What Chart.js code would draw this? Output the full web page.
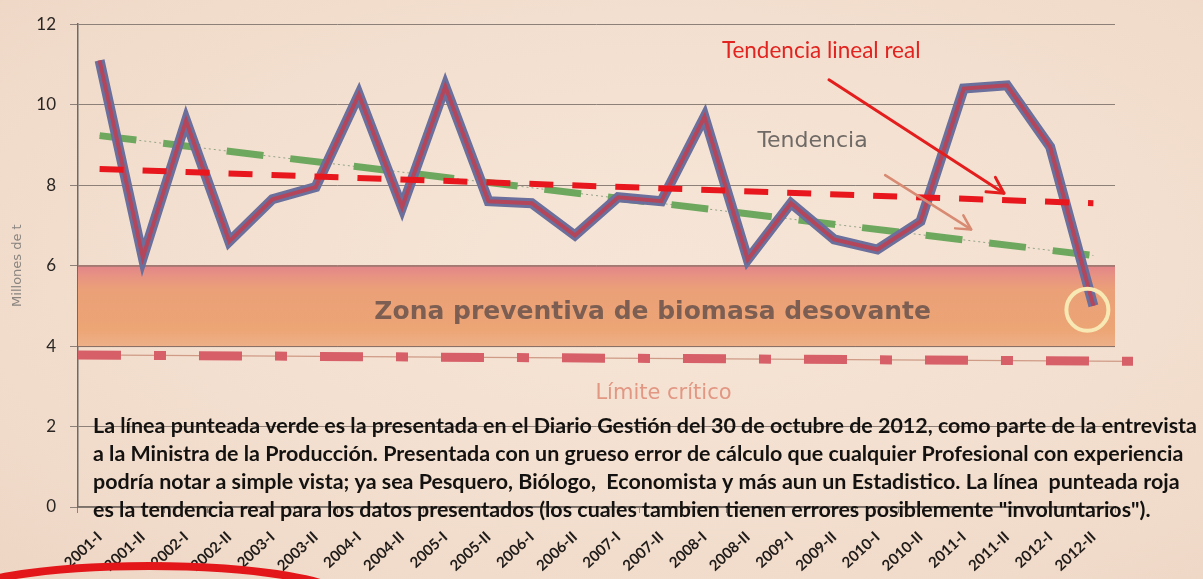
<!DOCTYPE html>
<html lang="es">
<head>
<meta charset="utf-8">
<title>Biomasa desovante de anchoveta</title>
<script src="https://cdn.jsdelivr.net/npm/chart.js@4.4.0/dist/chart.umd.min.js"></script>
<style>
  html, body { margin: 0; padding: 0; background: #f1dccb; }
  #wrap {
    position: relative; width: 1203px; height: 579px;
    background: radial-gradient(ellipse at 55% 45%, #f6e5d7 0%, #f3dfcf 55%, #eed6c4 100%);
  }
  canvas { display: block; }
</style>
</head>
<body>
<div id="wrap"><canvas id="chart" width="1203" height="579"></canvas></div>
<script>
// ─── Data ────────────────────────────────────────────────────────────────────
const CATEGORIES = [
  "2001-I", "2001-II", "2002-I", "2002-II", "2003-I", "2003-II",
  "2004-I", "2004-II", "2005-I", "2005-II", "2006-I", "2006-II",
  "2007-I", "2007-II", "2008-I", "2008-II", "2009-I", "2009-II",
  "2010-I", "2010-II", "2011-I", "2011-II", "2012-I", "2012-II",
];
const BIOMASS = [
  11.1, 6.2, 9.6, 6.6, 7.65, 7.95,
  10.25, 7.45, 10.45, 7.6, 7.55, 6.75,
  7.7, 7.6, 9.7, 6.15, 7.55, 6.65,
  6.4, 7.1, 10.4, 10.48, 8.95, 5.0,
];
// trend lines: value at first and last period
const TREND_GESTION = [9.23, 6.25];   // green, as published
const TREND_REAL = [8.4, 7.55];       // red, actual linear fit
const ZONE = [4, 6];                  // zona preventiva
const CRITICAL = [3.78, 3.62];        // límite crítico (left, right)
const Y_TICKS = [0, 2, 4, 6, 8, 10, 12];

const NOTE_LINES = [
  "La línea punteada verde es la presentada en el Diario Gestión del 30 de octubre de 2012, como parte de la entrevista",
  "a la Ministra de la Producción. Presentada con un grueso error de cálculo que cualquier Profesional con experiencia",
  "podría notar a simple vista; ya sea Pesquero, Biólogo,  Economista y más aun un Estadistico. La línea  punteada roja",
  "es la tendencia real para los datos presentados (los cuales tambien tienen errores posiblemente \"involuntarios\").",
];

// Only the two ends of a trend line are known; the library joins them.
const endsOnly = (pair) =>
  CATEGORIES.map((_, i) => (i === 0 ? pair[0] : i === CATEGORIES.length - 1 ? pair[1] : null));

// ─── Annotation layout (category index, value) ───────────────────────────────
const ANNOT = {
  realLabel: { at: [16.7, 11.35], text: "Tendencia lineal real" },
  trendLabel: { at: [16.5, 9.1], text: "Tendencia" },
  realArrow: { from: [16.88, 10.62], to: [20.93, 7.8] },
  trendArrow: { from: [18.18, 8.25], to: [20.17, 6.9] },
  zoneLabel: { at: [12.8, 4.84], text: "Zona preventiva de biomasa desovante" },
  criticalLabel: { at: [13.05, 2.82], text: "Límite crítico" },
};

function arrow(ctx, x1, y1, x2, y2, color, width, head) {
  ctx.save();
  ctx.strokeStyle = color;
  ctx.lineWidth = width;
  ctx.lineCap = "round";
  ctx.lineJoin = "round";
  ctx.beginPath();
  ctx.moveTo(x1, y1);
  ctx.lineTo(x2, y2);
  ctx.stroke();
  const ang = Math.atan2(y2 - y1, x2 - x1);
  ctx.beginPath();
  ctx.moveTo(x2 - head * Math.cos(ang - 0.5), y2 - head * Math.sin(ang - 0.5));
  ctx.lineTo(x2, y2);
  ctx.lineTo(x2 - head * Math.cos(ang + 0.5), y2 - head * Math.sin(ang + 0.5));
  ctx.stroke();
  ctx.restore();
}

const annotations = {
  id: "annotations",
  beforeDatasetsDraw(chart) {
    const { ctx, chartArea: a, scales: { x, y } } = chart;
    const px = ([i, v]) => [x.getPixelForValue(i), y.getPixelForValue(v)];

    // orange "zona preventiva" band
    const yTop = y.getPixelForValue(ZONE[1]);
    const yBot = y.getPixelForValue(ZONE[0]);
    ctx.save();
    const g = ctx.createLinearGradient(0, yTop, 0, yBot);
    g.addColorStop(0, "#e3848a");
    g.addColorStop(0.12, "#e79283");
    g.addColorStop(0.3, "#eba077");
    g.addColorStop(0.8, "#eca575");
    g.addColorStop(1, "#eeb088");
    ctx.fillStyle = g;
    ctx.fillRect(a.left, yTop, a.right - a.left, yBot - yTop);
    ctx.strokeStyle = "#8a6f64";
    ctx.lineWidth = 1;
    ctx.beginPath();
    ctx.moveTo(a.left, yTop + 0.5); ctx.lineTo(a.right, yTop + 0.5);
    ctx.moveTo(a.left, yBot + 0.5); ctx.lineTo(a.right, yBot + 0.5);
    ctx.stroke();

    const [zx, zy] = px(ANNOT.zoneLabel.at);
    ctx.font = 'bold 25px "DejaVu Sans"';
    ctx.textAlign = "center";
    ctx.textBaseline = "middle";
    ctx.fillStyle = "#7c5f52";
    ctx.fillText(ANNOT.zoneLabel.text, zx, zy, 570);

    // límite crítico: thin line plus long/short dashes
    const cy1 = y.getPixelForValue(CRITICAL[0]);
    const cy2 = y.getPixelForValue(CRITICAL[1]);
    const cx2 = a.right + 18;
    ctx.strokeStyle = "#cf9a86";
    ctx.lineWidth = 1.2;
    ctx.beginPath(); ctx.moveTo(a.left, cy1); ctx.lineTo(cx2, cy2); ctx.stroke();
    ctx.strokeStyle = "#d65f68";
    ctx.lineWidth = 9;
    ctx.setLineDash([43, 33, 12, 33]);
    ctx.beginPath(); ctx.moveTo(a.left, cy1); ctx.lineTo(cx2, cy2); ctx.stroke();
    ctx.setLineDash([]);

    const [lx, ly] = px(ANNOT.criticalLabel.at);
    ctx.font = '21px "DejaVu Sans"';
    ctx.fillStyle = "#e29783";
    ctx.fillText(ANNOT.criticalLabel.text, lx, ly, 138);
    ctx.restore();
  },
  afterDatasetsDraw(chart) {
    const { ctx, chartArea: a, scales: { x, y } } = chart;
    const px = ([i, v]) => [x.getPixelForValue(i), y.getPixelForValue(v)];
    ctx.save();

    // circle around the last observation
    const last = CATEGORIES.length - 1;
    ctx.strokeStyle = "#f8e8b4";
    ctx.lineWidth = 4;
    ctx.beginPath();
    ctx.arc(x.getPixelForValue(last) - 6, y.getPixelForValue(BIOMASS[last]) + 4, 21, 0, Math.PI * 2);
    ctx.stroke();

    // labels + arrows
    ctx.textAlign = "center";
    ctx.textBaseline = "middle";
    let [tx, ty] = px(ANNOT.realLabel.at);
    ctx.font = '22.5px "Lato"';
    ctx.fillStyle = "#e2231f";
    ctx.fillText(ANNOT.realLabel.text, tx, ty, 200);
    [tx, ty] = px(ANNOT.trendLabel.at);
    ctx.font = '22px "DejaVu Sans"';
    ctx.fillStyle = "#6f6a66";
    ctx.fillText(ANNOT.trendLabel.text, tx, ty, 114);

    let [ax1, ay1] = px(ANNOT.realArrow.from);
    let [ax2, ay2] = px(ANNOT.realArrow.to);
    arrow(ctx, ax1, ay1, ax2, ay2, "#e41d1d", 3, 18);
    [ax1, ay1] = px(ANNOT.trendArrow.from);
    [ax2, ay2] = px(ANNOT.trendArrow.to);
    arrow(ctx, ax1, ay1, ax2, ay2, "#d88a72", 2.5, 16);

    // explanatory note
    ctx.textAlign = "left";
    ctx.textBaseline = "alphabetic";
    ctx.fillStyle = "#141210";
    ctx.font = 'bold 20px "Lato"';
    const natural = ctx.measureText(NOTE_LINES[0]).width;
    const size = 20 * 1104 / natural;
    ctx.font = `bold ${size.toFixed(2)}px "Lato"`;
    NOTE_LINES.forEach((line, k) => ctx.fillText(line, a.left + 15, y.getPixelForValue(1.85) + k * 28));

    // hand-drawn red ellipse at the bottom edge
    ctx.strokeStyle = "#e3171a";
    ctx.lineWidth = 8;
    ctx.beginPath();
    ctx.ellipse(x.getPixelForValue(1.15), chart.height + 21, 197, 34, 0, 0, Math.PI * 2);
    ctx.stroke();
    ctx.restore();
  },
};

const chart = new Chart(document.getElementById("chart"), {
  type: "line",
  data: {
    labels: CATEGORIES,
    datasets: [
      {
        label: "Tendencia lineal real",
        data: endsOnly(TREND_REAL),
        spanGaps: true,
        borderColor: "#e8171d",
        borderWidth: 6,
        borderDash: [24, 19],
        pointRadius: 0,
        order: 0,
      },
      {
        label: "Biomasa",
        data: BIOMASS,
        borderColor: "#b4465c",
        borderWidth: 4,
        pointRadius: 0,
        tension: 0,
        order: 1,
      },
      {
        label: "Biomasa (contorno)",
        data: BIOMASS,
        borderColor: "#6a6f9c",
        borderWidth: 10,
        pointRadius: 0,
        tension: 0,
        order: 2,
      },
      {
        label: "Tendencia (Gestión)",
        data: endsOnly(TREND_GESTION),
        spanGaps: true,
        borderColor: "#6ea85f",
        borderWidth: 7,
        borderDash: [37, 27],
        pointRadius: 0,
        order: 3,
      },
      {
        label: "Tendencia (guía)",
        data: endsOnly(TREND_GESTION),
        spanGaps: true,
        borderColor: "#93a486",
        borderWidth: 1,
        borderDash: [2, 3],
        pointRadius: 0,
        order: 4,
      },
    ],
  },
  options: {
    responsive: false,
    animation: false,
    layout: { padding: { top: 21, right: 88, left: 0, bottom: 0 } },
    plugins: { legend: { display: false }, tooltip: { enabled: false } },
    scales: {
      x: {
        offset: true,
        afterFit: (s) => { s.height = 72; },
        grid: { offset: true, drawOnChartArea: false, tickLength: 6, color: "#8f8278" },
        border: { color: "#7c726b", width: 1.5 },
        ticks: {
          autoSkip: false,
          minRotation: 43,
          maxRotation: 43,
          padding: 15,
          color: "#1f1b19",
          font: { family: "Lato", weight: "bold", size: 15 },
        },
      },
      y: {
        min: 0,
        max: 12,
        afterFit: (s) => { s.width = 78; },
        afterBuildTicks: (s) => { s.ticks = Y_TICKS.map((v) => ({ value: v })); },
        grid: { color: "#8c8078", lineWidth: 1, tickLength: 8 },
        border: { color: "#6f6a66", width: 1.5 },
        ticks: {
          padding: 14,
          color: "#2a2623",
          font: { family: "Lato", size: 17 },
        },
        title: {
          display: true,
          text: "Millones de t",
          color: "#8a8580",
          padding: { top: 10, bottom: 0 },
          font: { family: "DejaVu Sans", size: 13 },
        },
      },
    },
  },
  plugins: [annotations],
});
</script>
</body>
</html>
